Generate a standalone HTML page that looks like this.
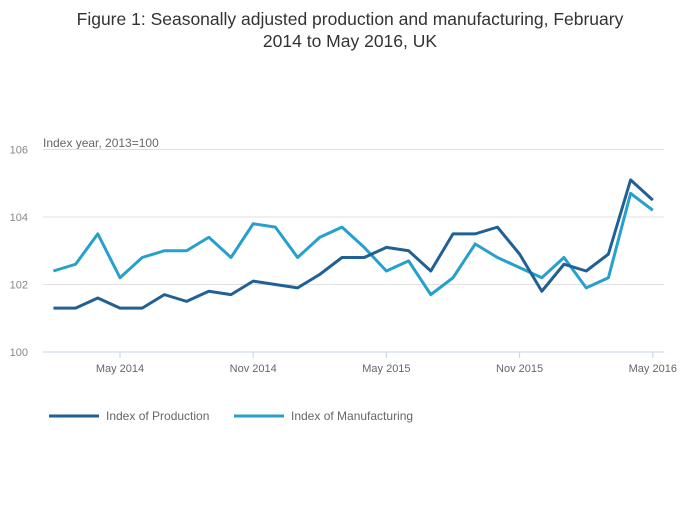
<!DOCTYPE html>
<html><head><meta charset="utf-8"><style>
body{margin:0;background:#fff;font-family:"Liberation Sans",sans-serif;}
svg text{font-family:"Liberation Sans",sans-serif;}
</style></head><body>
<svg id="chart" width="700" height="502" viewBox="0 0 700 502">
<text x="350" y="25" text-anchor="middle" font-size="17.5" fill="#333">Figure 1: Seasonally adjusted production and manufacturing, February</text>
<text x="350" y="47" text-anchor="middle" font-size="17.5" fill="#333">2014 to May 2016, UK</text>
<text x="43" y="147" font-size="12" fill="#666">Index year, 2013=100</text>
<g id="grid"></g><g id="series"></g>
<g>
<line x1="49" y1="416" x2="99" y2="416" stroke="#206095" stroke-width="3"/>
<text x="106" y="420" font-size="12" fill="#666">Index of Production</text>
<line x1="234" y1="416" x2="284" y2="416" stroke="#27a0cc" stroke-width="3"/>
<text x="291" y="420" font-size="12" fill="#666">Index of Manufacturing</text>
</g>
</svg>
<script>
const yTicks=[100,102,104,106];
const xTickLabels=["May 2014","Nov 2014","May 2015","Nov 2015","May 2016"];
const xTickIndex=[3,9,15,21,27];
const production=[101.3,101.3,101.6,101.3,101.3,101.7,101.5,101.8,101.7,102.1,102.0,101.9,102.3,102.8,102.8,103.1,103.0,102.4,103.5,103.5,103.7,102.9,101.8,102.6,102.4,102.9,105.1,104.5];
const manufacturing=[102.4,102.6,103.5,102.2,102.8,103.0,103.0,103.4,102.8,103.8,103.7,102.8,103.4,103.7,103.1,102.4,102.7,101.7,102.2,103.2,102.8,102.5,102.2,102.8,101.9,102.2,104.7,104.2];
const NS="http://www.w3.org/2000/svg";
const x=i=>53.4+i*22.2;
const y=v=>352-(v-100)*33.75;
const grid=document.getElementById('grid'),ser=document.getElementById('series');
function mk(t,a,p){const e=document.createElementNS(NS,t);for(const k in a)e.setAttribute(k,a[k]);p.appendChild(e);return e;}
yTicks.forEach(v=>{
 if(v>100){const l=mk('line',{x1:43,x2:664,y1:y(v),y2:y(v),stroke:'#e0e0e0','stroke-width':1},grid);
 
 }
 const t=mk('text',{x:28,y:y(v)+4,'text-anchor':'end','font-size':11,fill:'#888'},grid);t.textContent=v;
 
 
});
const ax=mk('line',{x1:43,x2:664,y1:352,y2:352,stroke:'#c5d3e8','stroke-width':1},grid);


xTickLabels.forEach((s,k)=>{const xi=x(xTickIndex[k]);
 const tk=mk('line',{x1:xi,x2:xi,y1:352,y2:358,stroke:'#c5d3e8'},grid);
 
 
 const t=mk('text',{x:xi,y:372,'text-anchor':'middle','font-size':11,fill:'#666'},grid);t.textContent=s;
 
 
});
[[manufacturing,'#27a0cc','manufacturing-line'],[production,'#206095','production-line']].forEach(([d,c,n])=>{
 const p=mk('polyline',{points:d.map((v,i)=>x(i)+','+y(v)).join(' '),fill:'none',stroke:c,'stroke-width':3,'stroke-linejoin':'round'},ser);
 
 
});
</script>
</body></html>
